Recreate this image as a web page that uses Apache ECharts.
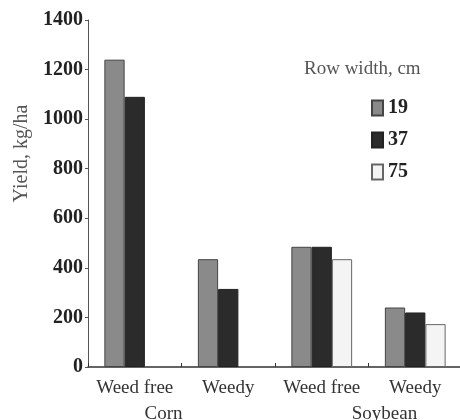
<!DOCTYPE html>
<html>
<head>
<meta charset="UTF-8">
<title>yield</title>
<style>
  html, body { margin: 0; padding: 0; background: #fff; }
  #chart { width: 460px; height: 420px; }
</style>
</head>
<body>
<div id="chart"></div>
<script src="https://cdn.jsdelivr.net/npm/echarts@6/dist/echarts.min.js"></script>
<script>
var categories = ['Weed free', 'Weedy', 'Weed free', 'Weedy'];
var crops = ['Corn', 'Soybean'];
var rowWidths = ['19', '37', '75'];
var w19 = [1240, 435, 485, 240];
var w37 = [1090, 315, 485, 220];
var w75 = [null, null, 435, 173];
var yTicks = [0, 1400, 200]; // min, max, interval

var serif = '"Liberation Serif", "DejaVu Serif", serif';
var chart = echarts.init(document.getElementById('chart'));

var option = {
  animation: false,
  backgroundColor: '#fff',
  title: {
    text: 'Row width, cm',
    left: 299,
    top: 55,
    textStyle: { fontFamily: serif, fontSize: 19, fontWeight: 'normal', color: '#555' }
  },
  legend: {
    orient: 'vertical',
    left: 366,
    top: 93,
    icon: 'rect',
    itemWidth: 11,
    itemHeight: 15,
    itemGap: 12,
    data: rowWidths,
    textStyle: { fontFamily: serif, fontSize: 20, fontWeight: 'bold', color: '#222' }
  },
  grid: { left: 88, top: 20, width: 374, height: 347, containLabel: false, outerBoundsMode: 'none' },
  xAxis: [{
    type: 'category',
    data: categories,
    axisLine: { lineStyle: { color: '#333', width: 1.5 } },
    axisTick: { show: true, inside: true, length: 4, interval: 0, lineStyle: { color: '#333' } },
    axisLabel: { fontFamily: serif, fontSize: 19, color: '#333', margin: 12, interval: 0 }
  }, {
    type: 'category',
    data: crops,
    position: 'bottom',
    offset: 26,
    axisLine: { show: false },
    axisTick: { show: false },
    axisLabel: {
      margin: 12,
      interval: 0,
      formatter: function (v, i) { return i === 0 ? '{c|' + v + '}' : '{s|' + v + '}'; },
      rich: {
        c: { fontFamily: serif, fontSize: 19, color: '#333', padding: [0, 36, 0, 0] },
        s: { fontFamily: serif, fontSize: 19, color: '#333', padding: [0, 0, 0, 32] }
      }
    }
  }],
  yAxis: {
    type: 'value',
    min: yTicks[0],
    max: yTicks[1],
    interval: yTicks[2],
    name: 'Yield, kg/ha',
    nameLocation: 'middle',
    nameGap: 56,
    nameTextStyle: { fontFamily: serif, fontSize: 20, color: '#555', padding: [0, 0, 0, 80] },
    axisLine: { show: true, lineStyle: { color: '#555' } },
    axisTick: { show: true, length: 3, lineStyle: { color: '#555' } },
    splitLine: { show: false },
    axisLabel: {
      fontFamily: serif, fontSize: 20, fontWeight: 'bold', color: '#222', margin: 5,
      formatter: function (v) { return String(v); }
    }
  },
  series: [{
    name: rowWidths[0], type: 'bar', data: w19,
    barGap: 0, barCategoryGap: '35%',
    itemStyle: { color: '#8a8a8a', borderColor: '#444', borderWidth: 1 }
  }, {
    name: rowWidths[1], type: 'bar', data: w37,
    itemStyle: { color: '#2b2b2b', borderColor: '#222', borderWidth: 1 }
  }, {
    name: rowWidths[2], type: 'bar', data: w75,
    itemStyle: { color: '#f4f4f4', borderColor: '#666', borderWidth: 1 }
  }]
};
chart.setOption(option);
</script>
</body>
</html>
